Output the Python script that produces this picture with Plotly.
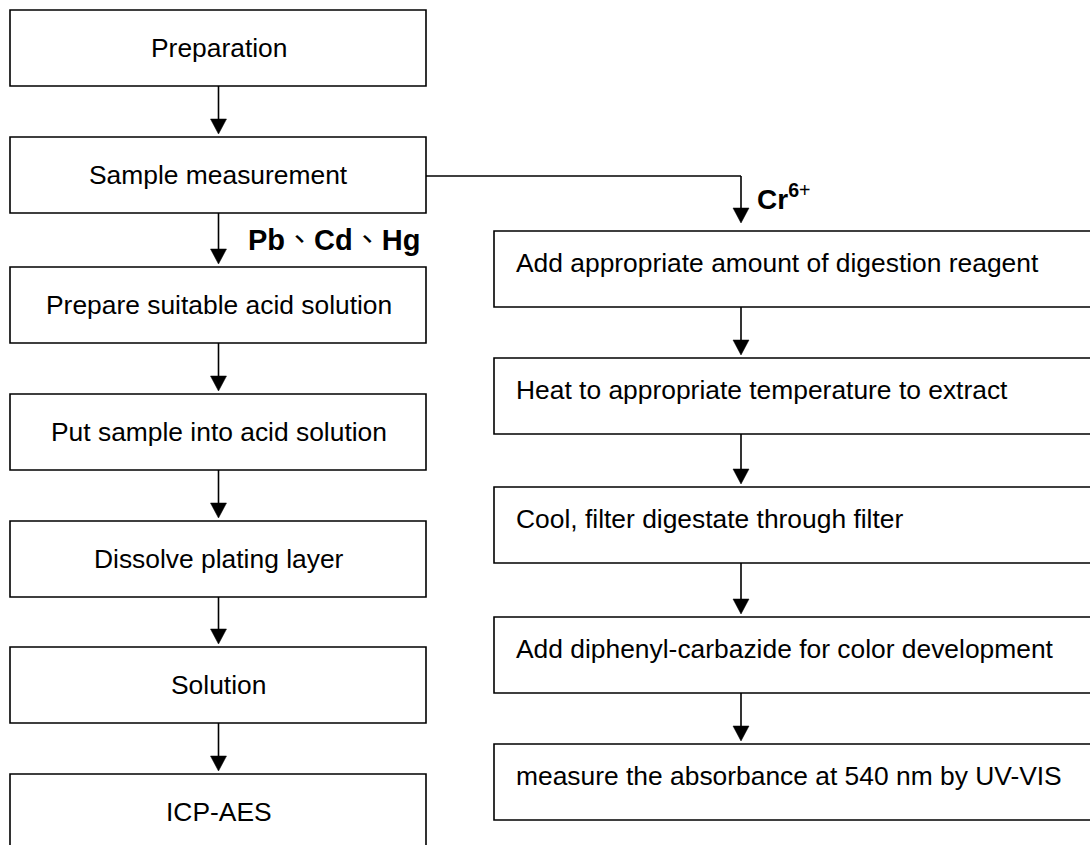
import plotly.graph_objects as go

# ---- content ----
left_steps = ["Preparation", "Sample measurement", "Prepare suitable acid solution",
              "Put sample into acid solution", "Dissolve plating layer", "Solution", "ICP-AES"]
right_steps = ["Add appropriate amount of digestion reagent",
               "Heat to appropriate temperature to extract",
               "Cool, filter digestate through filter",
               "Add diphenyl-carbazide for color development",
               "measure the absorbance at 540 nm by UV-VIS"]
left_branch_label = "<b>Pb</b>\u3001<b>Cd</b>\u3001<b>Hg</b>"
right_branch_label = "<b>Cr<sup>6</sup></b><sup>+</sup>"

# ---- layout geometry ----
W, H = 1090, 845
L_X0, L_X1 = 10, 426
L_TOPS = [10, 137, 267, 394, 521, 647, 774]
R_X0, R_X1 = 494, 1100
R_TOPS = [231, 358, 487, 617, 744]
BOX_H = 76
LW = 1.6
FONT = "Arial, Liberation Sans, Noto Sans CJK TC, sans-serif"
FS = 26.4
FS_B = 29

shapes = []
annotations = []


def box(x0, y0, x1, y1):
    shapes.append(dict(type="rect", xref="x", yref="y", x0=x0, y0=y0, x1=x1, y1=y1,
                       line=dict(color="black", width=LW), fillcolor="rgba(0,0,0,0)"))


def arrow(x, y_start, y_tip):
    shapes.append(dict(type="line", xref="x", yref="y", x0=x, y0=y_start, x1=x, y1=y_tip - 10,
                       line=dict(color="black", width=LW)))
    shapes.append(dict(type="path", xref="x", yref="y",
                       path=f"M {x-8},{y_tip-15} L {x+8},{y_tip-15} L {x},{y_tip} Z",
                       fillcolor="black", line=dict(color="black", width=0.5)))


# left column
LCX = (L_X0 + L_X1) / 2 + 0.5
for i, (label, top) in enumerate(zip(left_steps, L_TOPS)):
    box(L_X0, top, L_X1, top + BOX_H)
    annotations.append(dict(x=LCX, y=top + BOX_H / 2, xref="x", yref="y", text=label,
                            showarrow=False, xanchor="center", yanchor="middle",
                            font=dict(family=FONT, size=FS, color="black")))
    if i > 0:
        arrow(LCX, L_TOPS[i - 1] + BOX_H, top - 3)

# right column
RAX = 741
for i, (label, top) in enumerate(zip(right_steps, R_TOPS)):
    box(R_X0, top, R_X1, top + BOX_H)
    annotations.append(dict(x=514, y=top + BOX_H / 2 - 6, xref="x", yref="y", text=label,
                            showarrow=False, xanchor="left", yanchor="middle",
                            font=dict(family=FONT, size=FS, color="black")))
    if i > 0:
        arrow(RAX, R_TOPS[i - 1] + BOX_H, top - 3)

# branch connector
conn_y = L_TOPS[1] + 39
shapes.append(dict(type="line", xref="x", yref="y", x0=L_X1, y0=conn_y, x1=RAX, y1=conn_y,
                   line=dict(color="black", width=LW)))
arrow(RAX, conn_y, R_TOPS[0] - 8)

annotations.append(dict(x=246, y=240, xref="x", yref="y", text=left_branch_label,
                        showarrow=False, xanchor="left", yanchor="middle",
                        font=dict(family=FONT, size=FS_B, color="black")))
annotations.append(dict(x=755, y=197, xref="x", yref="y", text=right_branch_label,
                        showarrow=False, xanchor="left", yanchor="middle",
                        font=dict(family=FONT, size=FS_B - 1, color="black")))

fig = go.Figure()
fig.update_layout(
    width=W, height=H,
    margin=dict(l=0, r=0, t=0, b=0),
    paper_bgcolor="white", plot_bgcolor="white",
    xaxis=dict(range=[0, W], visible=False, fixedrange=True),
    yaxis=dict(range=[H, 0], visible=False, fixedrange=True),
    shapes=shapes, annotations=annotations, showlegend=False,
)
fig.write_html("out.html", config={"displayModeBar": False},
               post_script="document.body.style.margin='0px';document.body.style.overflow='hidden';")
